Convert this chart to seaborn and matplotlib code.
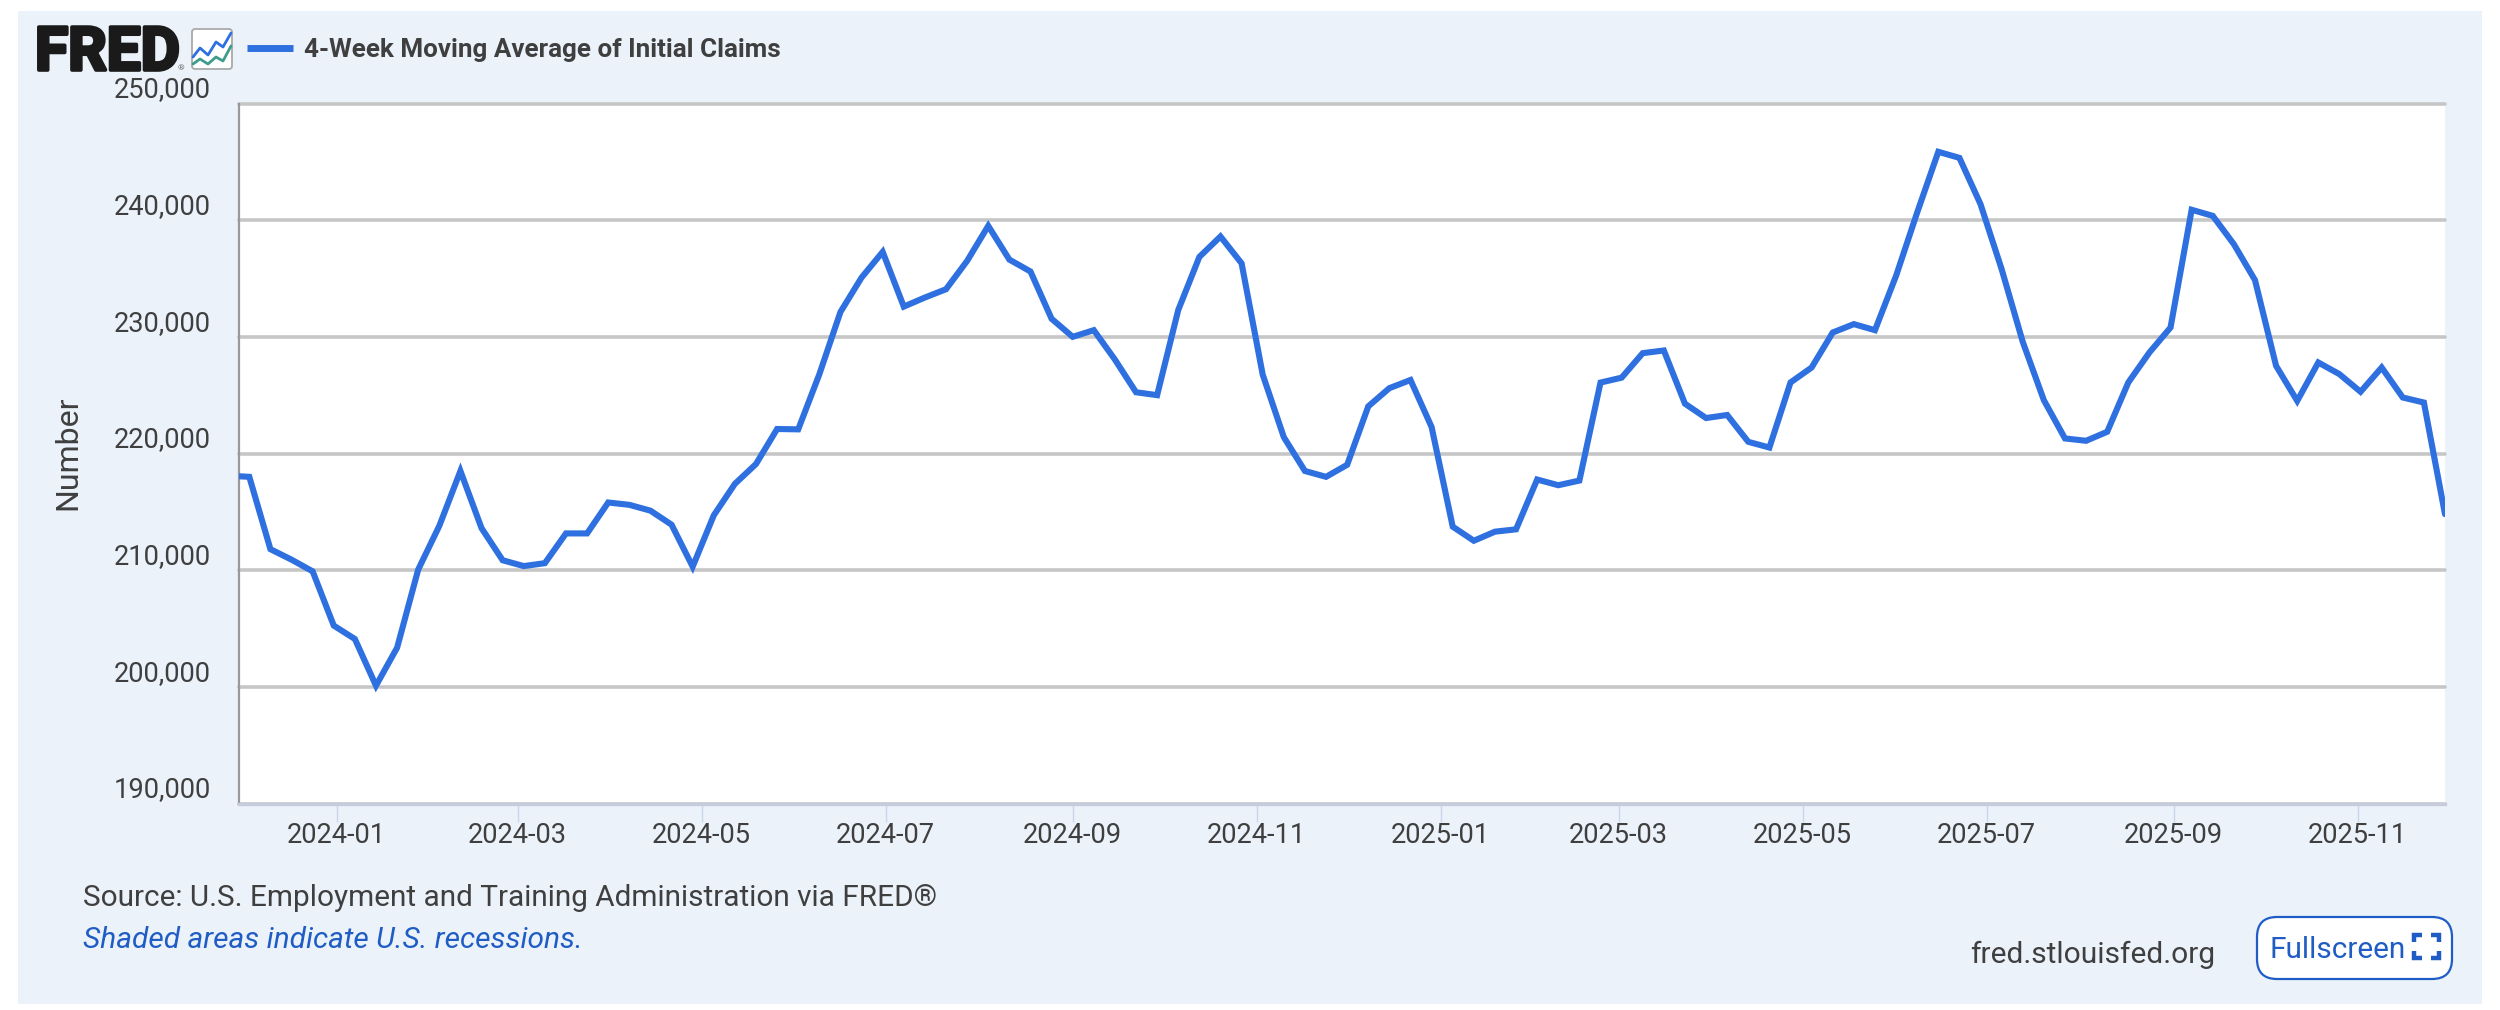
import numpy as np
import pandas as pd
import seaborn as sns
import matplotlib.pyplot as plt
import matplotlib.dates as mdates
import matplotlib.patheffects as pe
from matplotlib.lines import Line2D
from matplotlib.patches import FancyBboxPatch, Rectangle
from matplotlib.ticker import FuncFormatter
from matplotlib.transforms import Affine2D

# weekly values
first_week = "2023-11-26"
claims = [
    218100, 218000, 211800, 210900, 209900, 205250, 204100, 200100, 203350, 210050,
    213800, 218500, 213600, 210850, 210350, 210600, 213150, 213150, 215800, 215600,
    215100, 213900, 210300, 214700, 217400, 219100, 222100, 222070, 226790, 232130,
    235080, 237280, 232590, 233370, 234080, 236510, 239510, 236620, 235600, 231550,
    230000, 230570, 228050, 225250, 225000, 232300, 236850, 238600, 236300, 226760,
    221400, 218500, 218000, 219030, 224040, 225600, 226300, 222270, 213730, 212520,
    213300, 213500, 217770, 217280, 217680, 226080, 226500, 228600, 228830, 224270,
    223040, 223300, 221000, 220510, 226090, 227370, 230370, 231090, 230570, 235230,
    240660, 245860, 245340, 241370, 235800, 229570, 224570, 221290, 221090, 221860,
    226090, 228660, 230800, 240890, 240370, 237940, 234860, 227510, 224510, 227800,
    226800, 225290, 227370, 224800, 224370, 214800,
]
y_ticks = [190000, 200000, 210000, 220000, 230000, 240000, 250000]
x_ticks = ["2024-01", "2024-03", "2024-05", "2024-07", "2024-09", "2024-11",
           "2025-01", "2025-03", "2025-05", "2025-07", "2025-09", "2025-11"]

series_name = "4-Week Moving Average of Initial Claims"
source_text = "Source: U.S. Employment and Training Administration via FRED®"
recession_text = "Shaded areas indicate U.S. recessions."

PANEL = "#EBF2FA"
TEXT = "#3F3F3F"
LINE = "#2F70E0"
LINK = "#1F5CC4"

df = pd.DataFrame({
    "date": pd.date_range(first_week, periods=len(claims), freq="7D"),
    "claims": claims,
})

sns.set_theme(style="white")
plt.rcParams["font.family"] = ["Roboto", "DejaVu Sans"]

fig = plt.figure(figsize=(25, 10.1), dpi=100, facecolor="white")
# picture pixels, y pointing down
px = Affine2D().scale(1, -1).translate(0, 1010)

fig.add_artist(Rectangle((18, 11), 2464, 993, transform=px, facecolor=PANEL, edgecolor="none", zorder=-5))

ax = fig.add_axes([239 / 2500, 1 - 803.5 / 1010, (2445 - 239) / 2500, (803.5 - 103.5) / 1010])
ax.set_facecolor("white")

sns.lineplot(data=df, x="date", y="claims", ax=ax, color=LINE, linewidth=4.4, label=series_name,
             solid_joinstyle="miter", zorder=3)

ax.set_xlim(pd.Timestamp("2023-11-29 14:00"), pd.Timestamp("2025-11-30"))
ax.set_ylim(190000, 250000)

ax.set_yticks(y_ticks)
ax.yaxis.set_major_formatter(FuncFormatter(lambda v, pos: f"{int(v):,}"))
ax.grid(axis="y", color="#C6C6C6", linewidth=2.6, zorder=1)
ax.tick_params(axis="y", length=0, pad=20, labelsize=19.6, labelcolor=TEXT)
for lab in ax.get_yticklabels():
    lab.set_va("bottom")
for gl in ax.get_ygridlines():
    gl.set_clip_on(False)

ax.set_xticks(pd.to_datetime(x_ticks))
ax.xaxis.set_major_formatter(mdates.DateFormatter("%Y-%m"))
ax.tick_params(axis="x", length=13, width=1, color="#CCD6EB", pad=0, labelsize=19.6, labelcolor=TEXT, bottom=True)

ax.set_xlabel("")
ax.set_ylabel("")
fig.text(68, 453, "Number", transform=px, rotation=90, ha="center", va="center", fontsize=23, color=TEXT)

for side in ["top", "right"]:
    ax.spines[side].set_visible(False)
ax.spines["left"].set_color("#999999")
ax.spines["left"].set_linewidth(1.6)
ax.spines["bottom"].set_color("#C6CCDE")
ax.spines["bottom"].set_linewidth(2.4)

# legend sits in the header, next to the logo
leg = ax.legend(loc="center left", bbox_to_anchor=(247, 50), bbox_transform=px, frameon=False,
                handlelength=1.77, handletextpad=0.4, borderpad=0, borderaxespad=0,
                prop={"family": "Roboto", "weight": "bold", "size": 18.75})
leg.get_lines()[0].set_linewidth(5)
leg.get_lines()[0].set_solid_capstyle("butt")
leg.get_texts()[0].set_color(TEXT)

# FRED logo
logo = fig.text(35, 70, "FRED", transform=px, ha="left", va="baseline", fontsize=43.5, fontweight="bold", color="#1A1A1A")
logo.set_path_effects([pe.withStroke(linewidth=2.6, foreground="#1A1A1A")])
fig.text(178, 70, "®", transform=px, ha="left", va="baseline", fontsize=6, color="#666666")
fig.add_artist(FancyBboxPatch((192, 29), 40, 40, boxstyle="round,pad=0,rounding_size=3", transform=px,
                              facecolor="white", edgecolor="#A9A9A9", linewidth=1.3))
fig.add_artist(Line2D([193, 200, 208, 216, 223, 231], [57, 48, 55, 42, 47, 33], transform=px, color="#2F70E0", linewidth=2))
fig.add_artist(Line2D([193, 200, 208, 216, 223, 231], [64, 59, 64, 57, 61, 46], transform=px, color="#3E9C8C", linewidth=2))

# footer
fig.text(83, 898, source_text, transform=px, ha="left", va="center", fontsize=21.45, color=TEXT)
fig.text(83, 940, recession_text, transform=px, ha="left", va="center", fontsize=21.55, style="italic", color=LINK)
fig.text(1970, 955, "fred.stlouisfed.org", transform=px, ha="left", va="center", fontsize=21.5, color=TEXT)

fig.add_artist(FancyBboxPatch((2257, 917), 195, 62, boxstyle="round,pad=0,rounding_size=20", transform=px,
                              facecolor="white", edgecolor=LINK, linewidth=1.6))
fig.text(2270, 950, "Fullscreen", transform=px, ha="left", va="center", fontsize=21.4, color=LINK)
for cx, cy, dx, dy in [(2414, 935, 1, 1), (2439, 935, -1, 1), (2414, 958, 1, -1), (2439, 958, -1, -1)]:
    fig.add_artist(Line2D([cx + 8 * dx, cx, cx], [cy, cy, cy + 7 * dy], transform=px, color=LINK,
                          linewidth=3.2, solid_joinstyle="miter", solid_capstyle="butt"))

fig.savefig("out.png", dpi=100)
